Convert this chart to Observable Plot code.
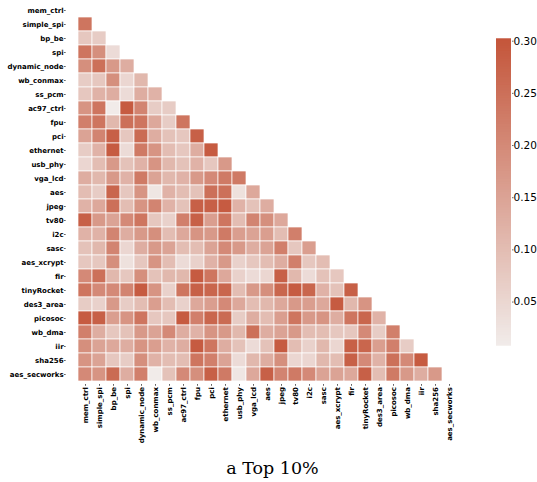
<!DOCTYPE html>
<html><head><meta charset="utf-8">
<script src="https://cdn.jsdelivr.net/npm/d3@7"></script>
<script src="https://cdn.jsdelivr.net/npm/@observablehq/plot@0.6"></script>
<style>
body{margin:0;background:#fff;}
#wrap{position:relative;width:537px;height:482px;overflow:hidden;}
#main{position:absolute;left:0;top:0;}
#cb{position:absolute;left:470px;top:0;}
#cap{position:absolute;left:0;top:460px;width:545px;text-align:center;font-family:"DejaVu Serif";font-size:17.5px;line-height:1;color:#000;}
</style></head><body>
<div id="wrap"><div id="main"></div><div id="cb"></div><div id="cap">a Top 10%</div></div>
<script>
const categories = ["mem_ctrl","simple_spi","bp_be","spi","dynamic_node","wb_conmax","ss_pcm","ac97_ctrl","fpu","pci","ethernet","usb_phy","vga_lcd","aes","jpeg","tv80","i2c","sasc","aes_xcrypt","fir","tinyRocket","des3_area","picosoc","wb_dma","iir","sha256","aes_secworks"];

// lower-triangle values, one array per row (columns in category order)
const v_mem_ctrl = [];
const v_simple_spi = [0.24];
const v_bp_be = [0.08, 0.07];
const v_spi = [0.24, 0.19, 0.04];
const v_dynamic_node = [0.19, 0.25, 0.17, 0.13];
const v_wb_conmax = [0.07, 0.08, 0.19, 0.05, 0.11];
const v_ss_pcm = [0.08, 0.12, 0.13, 0.04, 0.13, 0.12];
const v_ac97_ctrl = [0.18, 0.24, 0.01, 0.29, 0.21, 0.07, 0.07];
const v_fpu = [0.22, 0.24, 0.11, 0.25, 0.24, 0.14, 0.07, 0.24];
const v_pci = [0.15, 0.21, 0.28, 0.08, 0.26, 0.13, 0.09, 0.08, 0.28];
const v_ethernet = [0.07, 0.12, 0.29, 0.04, 0.23, 0.18, 0.10, 0.08, 0.13, 0.29];
const v_usb_phy = [0.05, 0.10, 0.17, 0.09, 0.12, 0.18, 0.11, 0.09, 0.12, 0.08, 0.17];
const v_vga_lcd = [0.13, 0.11, 0.17, 0.12, 0.23, 0.15, 0.11, 0.12, 0.17, 0.20, 0.23, 0.23];
const v_aes = [0.10, 0.07, 0.27, 0.08, 0.18, 0.02, 0.12, 0.10, 0.09, 0.25, 0.25, 0.03, 0.14];
const v_jpeg = [0.12, 0.14, 0.25, 0.10, 0.18, 0.21, 0.12, 0.09, 0.28, 0.28, 0.29, 0.12, 0.09, 0.13];
const v_tv80 = [0.28, 0.17, 0.15, 0.20, 0.24, 0.08, 0.06, 0.22, 0.28, 0.16, 0.24, 0.10, 0.21, 0.19, 0.14];
const v_i2c = [0.12, 0.12, 0.21, 0.13, 0.17, 0.19, 0.10, 0.14, 0.18, 0.17, 0.23, 0.16, 0.15, 0.16, 0.10, 0.22];
const v_sasc = [0.09, 0.11, 0.21, 0.05, 0.13, 0.17, 0.15, 0.10, 0.10, 0.15, 0.20, 0.17, 0.13, 0.15, 0.22, 0.08, 0.16];
const v_aes_xcrypt = [0.08, 0.08, 0.19, 0.03, 0.08, 0.18, 0.10, 0.04, 0.06, 0.12, 0.17, 0.06, 0.08, 0.10, 0.13, 0.22, 0.08, 0.10];
const v_fir = [0.20, 0.25, 0.11, 0.08, 0.19, 0.09, 0.11, 0.11, 0.29, 0.24, 0.14, 0.06, 0.04, 0.05, 0.28, 0.11, 0.04, 0.09, 0.08];
const v_tinyRocket = [0.24, 0.20, 0.20, 0.21, 0.29, 0.18, 0.06, 0.24, 0.28, 0.27, 0.27, 0.10, 0.17, 0.19, 0.27, 0.29, 0.27, 0.12, 0.09, 0.28];
const v_des3_area = [0.07, 0.06, 0.17, 0.07, 0.10, 0.16, 0.10, 0.06, 0.14, 0.16, 0.20, 0.14, 0.10, 0.11, 0.14, 0.17, 0.16, 0.14, 0.29, 0.11, 0.18];
const v_picosoc = [0.29, 0.28, 0.16, 0.18, 0.24, 0.08, 0.08, 0.29, 0.22, 0.27, 0.26, 0.07, 0.13, 0.10, 0.16, 0.24, 0.17, 0.18, 0.13, 0.24, 0.27, 0.12];
const v_wb_dma = [0.22, 0.13, 0.08, 0.09, 0.17, 0.15, 0.20, 0.13, 0.12, 0.18, 0.17, 0.11, 0.25, 0.13, 0.15, 0.17, 0.10, 0.10, 0.08, 0.08, 0.20, 0.07, 0.22];
const v_iir = [0.19, 0.15, 0.14, 0.13, 0.18, 0.16, 0.12, 0.13, 0.29, 0.24, 0.13, 0.09, 0.04, 0.09, 0.29, 0.10, 0.06, 0.11, 0.05, 0.28, 0.27, 0.16, 0.22, 0.07];
const v_sha256 = [0.18, 0.15, 0.08, 0.07, 0.19, 0.12, 0.10, 0.10, 0.24, 0.22, 0.15, 0.04, 0.11, 0.13, 0.19, 0.05, 0.05, 0.11, 0.10, 0.28, 0.20, 0.12, 0.25, 0.20, 0.29];
const v_aes_secworks = [0.20, 0.18, 0.26, 0.13, 0.22, 0.01, 0.09, 0.20, 0.19, 0.28, 0.23, 0.02, 0.14, 0.28, 0.21, 0.23, 0.20, 0.15, 0.15, 0.14, 0.28, 0.10, 0.23, 0.17, 0.13, 0.17];

const colorbarTicks = [0.05, 0.10, 0.15, 0.20, 0.25, 0.30];
const colorDomain = [0.0077, 0.3023];

const rowValues = [v_mem_ctrl, v_simple_spi, v_bp_be, v_spi, v_dynamic_node, v_wb_conmax, v_ss_pcm, v_ac97_ctrl, v_fpu, v_pci, v_ethernet, v_usb_phy, v_vga_lcd, v_aes, v_jpeg, v_tv80, v_i2c, v_sasc, v_aes_xcrypt, v_fir, v_tinyRocket, v_des3_area, v_picosoc, v_wb_dma, v_iir, v_sha256, v_aes_secworks];

const cells = [];
rowValues.forEach((vals, i) => vals.forEach((v, j) => cells.push({row: categories[i], col: categories[j], value: v})));

const colorOpts = {type: "linear", domain: colorDomain, range: ["#f1ecea", "#c4553a"], interpolate: "rgb", clamp: true};

const main = Plot.plot({
  width: 537, height: 445,
  marginLeft: 65.7, marginRight: 68.2, marginTop: 0, marginBottom: 61,
  style: {fontFamily: "DejaVu Sans", fontSize: "7px", fontWeight: "bold", color: "#000", background: "transparent", overflow: "visible"},
  x: {domain: categories, padding: 0, label: null},
  y: {domain: categories, padding: 0, label: null},
  color: colorOpts,
  marks: [
    Plot.cell(cells, {x: "col", y: "row", fill: "value", stroke: "white", strokeWidth: 0.7}),
    Plot.axisX({tickRotate: -90, tickSize: 1.8, tickPadding: 0.8, strokeWidth: 0.6, label: null}),
    Plot.axisY({tickSize: 1.8, tickPadding: 0.8, strokeWidth: 0.6, label: null})
  ]
});
document.getElementById("main").appendChild(main);

const step = 0.0025;
const stripes = d3.range(colorDomain[0], colorDomain[1], step);
const cb = Plot.plot({
  width: 67, height: 445,
  marginLeft: 26, marginRight: 26, marginTop: 38.3, marginBottom: 99.3,
  style: {fontFamily: "DejaVu Sans", fontSize: "10.5px", color: "#000", background: "transparent", overflow: "visible"},
  x: {axis: null, domain: [0, 1]},
  y: {domain: colorDomain, label: null},
  color: colorOpts,
  marks: [
    Plot.rect(stripes, {x1: () => 0, x2: () => 1, y1: d => d, y2: d => Math.min(d + step * 1.6, colorDomain[1]), fill: d => d + step / 2}),
    Plot.axisY({anchor: "right", ticks: colorbarTicks, tickFormat: ".2f", tickSize: 1.5, tickPadding: 0.5, strokeWidth: 0.6, label: null})
  ]
});
document.getElementById("cb").appendChild(cb);
</script>
</body></html>
